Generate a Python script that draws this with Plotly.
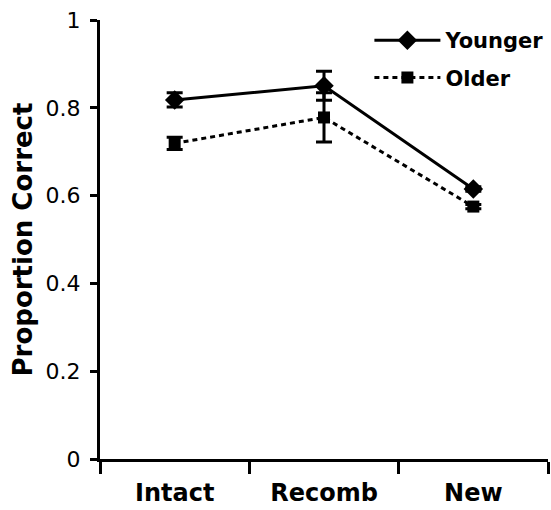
import plotly.graph_objects as go

categories = ["Intact", "Recomb", "New"]
younger = [0.818, 0.850, 0.615]
younger_err = [0.016, 0.033, 0.005]
older = [0.719, 0.778, 0.575]
older_err = [0.014, 0.056, 0.005]
y_ticks = [0, 0.2, 0.4, 0.6, 0.8, 1]
y_ticktext = ["0", "0.2", "0.4", "0.6", "0.8", "1"]

FONT = "DejaVu Sans"

fig = go.Figure()
fig.add_trace(go.Scatter(
    x=categories, y=younger, name="<b>Younger</b>", mode="lines+markers",
    legendgroup="y",
    line=dict(color="black", width=3),
    marker=dict(symbol="diamond", size=15, color="black"),
    error_y=dict(type="data", array=younger_err, visible=True, color="black", thickness=3, width=8),
))
fig.add_trace(go.Scatter(
    x=categories, y=older, name="<b>Older</b>", mode="lines+markers",
    legendgroup="o",
    line=dict(color="black", width=3, dash="5px,4px"),
    marker=dict(symbol="square", size=12, color="black"),
    error_y=dict(type="data", array=older_err, visible=True, color="black", thickness=3, width=8),
))

fig.update_layout(
    width=551, height=510,
    margin=dict(l=100, r=2, t=20, b=51),
    plot_bgcolor="white", paper_bgcolor="white",
    font=dict(family=FONT, color="black"),
    showlegend=True,
    legend=dict(x=0.6, y=1.0, xanchor="left", yanchor="top",
                font=dict(family=FONT, size=21, color="black"),
                bgcolor="rgba(0,0,0,0)", itemwidth=66, tracegroupgap=7),
    xaxis=dict(
        type="category", range=[-0.5, 2.5], tickson="boundaries",
        showline=True, linecolor="black", linewidth=3,
        ticks="outside", ticklen=12, tickwidth=3, tickcolor="black",
        tickfont=dict(family=FONT, size=24, color="black", weight="bold"),
        showgrid=False, zeroline=False, ticklabelstandoff=10, automargin=False,
    ),
    yaxis=dict(
        range=[0, 1], tickvals=y_ticks, ticktext=y_ticktext,
        showline=True, linecolor="black", linewidth=3,
        ticks="outside", ticklen=7, tickwidth=3, tickcolor="black",
        tickfont=dict(family=FONT, size=22, color="black"),
        showgrid=False, zeroline=False, ticklabelstandoff=5, automargin=False,
        title=dict(text="<b>Proportion Correct</b>", font=dict(family=FONT, size=26, color="black"), standoff=6),
    ),
)

fig.write_html("out.html")
